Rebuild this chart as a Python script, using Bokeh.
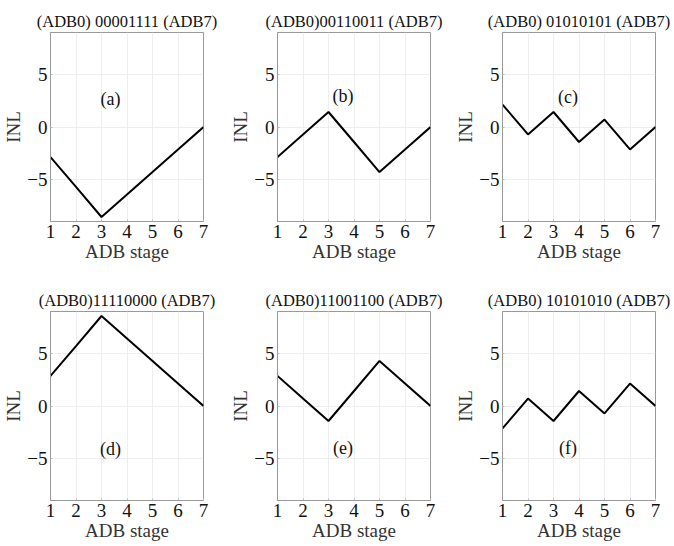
from bokeh.plotting import figure
from bokeh.layouts import gridplot
from bokeh.models import FixedTicker
from bokeh.core.properties import value
from bokeh.embed import file_html
from bokeh.resources import INLINE

stages = [1, 2, 3, 4, 5, 6, 7]
titles = ["(ADB0) 00001111 (ADB7)", "(ADB0)00110011 (ADB7)", "(ADB0) 01010101 (ADB7)",
          "(ADB0)11110000 (ADB7)", "(ADB0)11001100 (ADB7)", "(ADB0) 10101010 (ADB7)"]
inl_a = [-2.86, -5.71, -8.57, -6.43, -4.29, -2.14, 0.0]
inl_b = [-2.86, -0.71, 1.43, -1.43, -4.29, -2.14, 0.0]
inl_c = [2.14, -0.71, 1.43, -1.43, 0.71, -2.14, 0.0]
inl_d = [2.86, 5.71, 8.57, 6.43, 4.29, 2.14, 0.0]
inl_e = [2.86, 0.71, -1.43, 1.43, 4.29, 2.14, 0.0]
inl_f = [-2.14, 0.71, -1.43, 1.43, -0.71, 2.14, 0.0]
series = [inl_a, inl_b, inl_c, inl_d, inl_e, inl_f]
tags = ["(a)", "(b)", "(c)", "(d)", "(e)", "(f)"]
tag_x = [3.35, 3.57, 3.57, 3.35, 3.57, 3.57]
tag_y = [2.7, 3.0, 2.9, -4.1, -4.0, -4.0]
yticks = [-5, 0, 5]

FONT = "Liberation Serif"
borders_left = [50, 50, 50]
borders_right = [24, 22, 18]

figs = []
for i in range(6):
    r, c = divmod(i, 3)
    p = figure(output_backend="svg", toolbar_location=None,
               frame_width=153, frame_height=189,
               x_range=(1, 7), y_range=(-9, 9),
               min_border_left=borders_left[c], min_border_right=borders_right[c],
               min_border_top=32 if r == 0 else 26,
               min_border_bottom=64 if r == 0 else 36)
    p.title.text = titles[i]
    p.title.align = "center"
    p.title.text_font = FONT
    p.title.text_font_style = "normal"
    p.title.text_font_size = "16.5px"
    p.title.text_color = "#111111"
    p.title.standoff = 4
    p.line(stages, series[i], line_color="black", line_width=2)
    p.text(x=[tag_x[i]], y=[tag_y[i]], text=[tags[i]], text_align="center",
           text_baseline="middle", text_font=value(FONT), text_font_size="18px",
           text_color="#111111")
    p.xaxis.ticker = FixedTicker(ticks=stages)
    p.yaxis.ticker = FixedTicker(ticks=yticks)
    p.yaxis.major_label_overrides = {-5: "\u22125"}
    p.xaxis.axis_label = "ADB stage"
    p.yaxis.axis_label = "INL"
    for ax in (p.xaxis[0], p.yaxis[0]):
        ax.axis_label_text_font = FONT
        ax.axis_label_text_font_style = "normal"
        ax.axis_label_text_font_size = "19px"
        ax.axis_label_text_color = "#333333"
        ax.major_label_text_font = FONT
        ax.major_label_text_font_size = "19px"
        ax.major_label_text_color = "#111111"
        ax.axis_line_color = "#999999"
        ax.major_tick_in = 2
        ax.major_tick_out = 0
        ax.major_tick_line_color = "#bbbbbb"
        ax.minor_tick_line_color = None
        ax.axis_label_standoff = 0
        ax.major_label_standoff = 3
    p.outline_line_color = "#999999"
    p.xgrid.grid_line_color = "#eeeeee"
    p.ygrid.grid_line_color = "#eeeeee"
    p.background_fill_color = "white"
    figs.append(p)

grid = gridplot([figs[0:3], figs[3:6]], toolbar_location=None)
open("out.html", "w").write(file_html(grid, INLINE))
